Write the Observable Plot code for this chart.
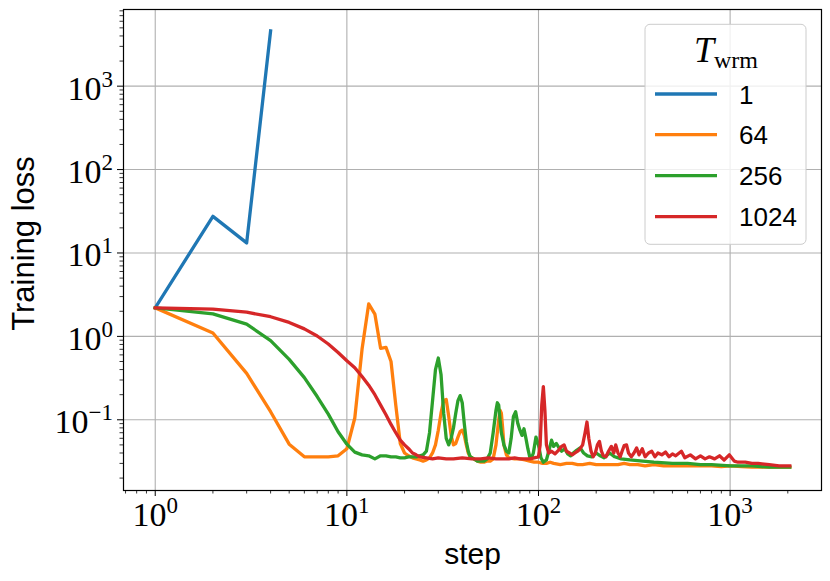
<!DOCTYPE html>
<html><head><meta charset="utf-8">
<script src="https://cdn.jsdelivr.net/npm/d3@7"></script>
<script src="https://cdn.jsdelivr.net/npm/@observablehq/plot@0.6"></script>
<style>body{margin:0;background:#fff}#chart{position:relative;width:830px;height:581px}</style>
</head><body><div id="chart"></div>
<script>
// ---- data ----
const seriesNames = ["1", "64", "256", "1024"];
const seriesColors = ["#1f77b4", "#ff7f0e", "#2ca02c", "#d62728"];
const legendTitle = "T";
const legendSub = "wrm";
const xLabel = "step";
const yLabel = "Training loss";

const steps1 = [1, 2, 3, 4];
const loss1 = [2.2, 27.5, 13.2, 4600];

const steps64 = [1,2,3,4,5,6,7,8,9,10,11,12,13,14,15,16,17,18,19,20,21,22,23,24,25,26,27,28,29,30,31,32,33,34,35,36,37,38,39,40,41,42,43,44,
  46,48,50,52,54,56,58,60,62,63,64,65,66,68,70,
  75,80,85,90,95,100,105,110,115,120,
  130,140,150,160,170,185,200,220,240,260,280,300,330,360,400,450,500,560,630,700,800,900,1000,1150,1300,1500,1750,2048];
const loss64 = [2.2,1.1,0.36,0.125,0.051,0.036,0.036,0.036,0.037,0.045,
  0.105,0.7,2.45,1.85,0.72,0.74,0.5,0.15,0.052,0.04,
  0.037,0.035,0.034,0.033,0.032,0.033,0.035,0.04,0.05,0.075,
  0.12,0.17,0.175,0.11,0.065,0.05,0.052,0.062,0.072,0.075,
  0.065,0.05,0.04,0.036,
  0.034,0.032,0.031,0.031,0.032,0.032,0.034,0.05,0.1,0.13,0.12,0.08,0.05,0.038,0.035,
  0.034,0.034,0.033,0.032,0.031,0.031,0.030,0.030,0.031,0.030,
  0.029,0.030,0.030,0.029,0.029,0.030,0.029,0.029,0.029,0.029,0.030,0.029,0.029,0.028,0.029,0.028,0.028,0.028,0.028,0.028,0.028,0.0275,0.028,0.0275,0.027,0.027,0.027,0.027];

const steps256 = [1,2,3,4,5,6,7,8,9,10,11,12,13,14,15,16,17,18,19,20,21,22,23,24,25,26,27,28,29,30,31,32,33,34,35,36,37,38,39,40,41,42,43,44,
  46,48,50,52,54,56,58,60,61,62,63,64,66,68,70,72,74,76,78,80,82,84,86,88,90,92,94,97,100,103,106,110,114,117,120,
  124,128,132,137,142,147,152,158,165,172,180,190,200,210,220,235,250,270,300,350,400,500,600,700,800,1000,1300,1600,2048];
const loss256 = [2.2,1.86,1.4,0.89,0.53,0.32,0.19,0.117,0.072,0.051,
  0.041,0.038,0.037,0.034,0.037,0.037,0.036,0.036,0.035,0.035,
  0.036,0.036,0.036,0.037,0.038,0.042,0.07,0.17,0.4,0.55,
  0.35,0.12,0.06,0.05,0.06,0.08,0.12,0.17,0.195,0.16,
  0.09,0.055,0.042,0.036,
  0.034,0.032,0.032,0.032,0.034,0.04,0.07,0.13,0.16,0.15,0.1,0.07,0.05,0.042,0.04,
  0.06,0.11,0.125,0.09,0.075,0.065,0.078,0.06,0.045,0.036,
  0.035,0.04,0.062,0.05,0.035,0.031,0.033,0.045,0.057,0.048,
  0.052,0.046,0.042,0.045,0.039,0.037,0.04,0.043,0.046,0.04,
  0.037,0.036,0.04,0.037,0.035,0.04,0.036,0.034,0.033,0.032,
  0.031,0.03,0.03,0.029,0.029,0.028,0.028,0.027,0.027];

const steps1024 = [1,2,3,4,5,6,7,8,9,10,11,12,13,14,15,16,17,18,19,20,21,22,23,24,
  26,28,30,33,36,40,45,50,55,60,65,70,75,80,85,90,95,100,
  102,104,106,108,110,113,117,122,127,132,136,140,145,150,155,160,165,170,175,179,
  183,188,193,198,203,208,213,218,225,232,240,247,253,260,267,273,280,288,295,305,
  315,325,335,348,360,375,390,405,420,440,460,480,500,520,557,580,620,660,700,740,
  780,830,880,930,990,1050,1100,1200,1300,1400,1600,1800,2048];
const loss1024 = [2.2,2.12,1.95,1.72,1.47,1.23,1.01,0.81,0.64,0.51,
  0.42,0.33,0.26,0.2,0.15,0.115,0.088,0.07,0.057,0.05,
  0.045,0.04,0.038,0.036,
  0.035,0.034,0.035,0.034,0.034,0.035,0.034,0.034,0.035,0.034,0.034,0.034,0.035,0.034,0.034,0.034,0.035,0.036,
  0.05,0.15,0.25,0.13,0.05,0.04,0.042,0.039,0.043,0.048,
  0.05,0.042,0.04,0.038,0.04,0.042,0.045,0.05,0.07,0.094,
  0.06,0.042,0.036,0.04,0.05,0.055,0.042,0.037,0.036,0.042,
  0.048,0.04,0.05,0.04,0.036,0.042,0.049,0.05,0.04,0.036,
  0.04,0.046,0.038,0.045,0.036,0.04,0.042,0.036,0.04,0.038,
  0.041,0.036,0.039,0.037,0.042,0.035,0.038,0.034,0.037,0.034,
  0.036,0.034,0.037,0.033,0.038,0.032,0.031,0.031,0.03,0.03,
  0.029,0.028,0.028];

const xTickExps = [0, 1, 2, 3];
const yTickExps = [-1, 0, 1, 2, 3];

// ---- build table ----
const seriesData = [[steps1, loss1], [steps64, loss64], [steps256, loss256], [steps1024, loss1024]];
const rows = [];
seriesData.forEach(([s, l], i) => {
  const n = Math.min(s.length, l.length);
  for (let k = 0; k < n; k++) rows.push({series: seriesNames[i], step: s[k], loss: l[k]});
});

const xMajor = xTickExps.map(e => Math.pow(10, e));
const yMajor = yTickExps.map(e => Math.pow(10, e));
const xDomain = [0.683, 2998];
const yDomain = [0.0142, 8300];
function minorTicks(domain) {
  const out = [];
  for (let e = Math.floor(Math.log10(domain[0])); e <= Math.ceil(Math.log10(domain[1])); e++) {
    for (let m = 2; m <= 9; m++) {
      const v = m * Math.pow(10, e);
      if (v >= domain[0] && v <= domain[1]) out.push(v);
    }
  }
  return out;
}
const xMinor = minorTicks(xDomain);
const yMinor = minorTicks(yDomain);
const sup = e => "10^" + (e < 0 ? "\u2212" + (-e) : String(e));

const serif = "'Liberation Serif', 'DejaVu Serif', serif";
const sans = "'Liberation Sans', 'DejaVu Sans', sans-serif";

const svg = Plot.plot({
  width: 830,
  height: 581,
  marginLeft: 123,
  marginRight: 9,
  marginTop: 9,
  marginBottom: 91,
  style: {background: "white", fontFamily: sans, overflow: "visible"},
  x: {type: "log", domain: xDomain},
  y: {type: "log", domain: yDomain},
  color: {domain: seriesNames, range: seriesColors},
  marks: [
    Plot.gridX(xMajor, {stroke: "#b0b0b0", strokeOpacity: 1, strokeWidth: 1.1}),
    Plot.gridY(yMajor, {stroke: "#b0b0b0", strokeOpacity: 1, strokeWidth: 1.1}),
    Plot.line(rows, {x: "step", y: "loss", z: "series", stroke: "series", strokeWidth: 3.3, strokeLinejoin: "round", strokeLinecap: "square"}),
    Plot.frame({stroke: "black", strokeWidth: 1.2}),
    Plot.axisX(xMajor, {anchor: "bottom", tickSize: 6, tickFormat: () => "", label: null, stroke: "black", strokeWidth: 1}),
    Plot.axisX(xMinor, {anchor: "bottom", tickSize: 3.5, tickFormat: () => "", label: null, stroke: "black", strokeWidth: 0.8}),
    Plot.axisY(yMajor, {anchor: "left", tickSize: 6, tickFormat: () => "", label: null, stroke: "black", strokeWidth: 1}),
    Plot.axisY(yMinor, {anchor: "left", tickSize: 3.5, tickFormat: () => "", label: null, stroke: "black", strokeWidth: 0.8}),
    Plot.text(xTickExps, {x: e => Math.pow(10, e), text: e => sup(e), frameAnchor: "bottom", textAnchor: "middle", lineAnchor: "bottom", dy: 35, fontSize: 34, fontFamily: serif, fill: "black"}),
    Plot.text(yTickExps, {y: e => Math.pow(10, e), text: e => sup(e), frameAnchor: "left", textAnchor: "end", lineAnchor: "bottom", dx: -10.5, dy: 13.5, fontSize: 34, fontFamily: serif, fill: "black"}),
    Plot.text([xLabel], {text: d => d, frameAnchor: "bottom", textAnchor: "middle", lineAnchor: "bottom", dy: 73, fontSize: 30, fontFamily: sans, fill: "black"}),
    Plot.text([yLabel], {text: d => d, frameAnchor: "left", rotate: -90, textAnchor: "middle", lineAnchor: "bottom", dx: -90, dy: -6.5, fontSize: 31, fontFamily: sans, fill: "black"})
  ]
});

// superscript exponents in tick labels
d3.select(svg).selectAll("text").each(function () {
  const m = /^10\^(.+)$/.exec(this.textContent);
  if (m) {
    this.textContent = "10";
    d3.select(this).append("tspan").attr("dy", -13).attr("font-size", 23).text(m[1]);
  }
});

// legend (inside axes, upper right)
const lg = d3.select(svg).append("g").attr("class", "legend").attr("text-anchor", "start");
lg.append("rect").attr("x", 645).attr("y", 24.3).attr("width", 161).attr("height", 220)
  .attr("rx", 5).attr("fill", "white").attr("fill-opacity", 0.8)
  .attr("stroke", "#cccccc").attr("stroke-width", 1);
const title = lg.append("text").attr("x", 726).attr("y", 61.7).attr("text-anchor", "middle")
  .attr("font-family", serif).attr("fill", "black");
title.append("tspan").attr("font-size", 36).attr("font-style", "italic").text(legendTitle);
title.append("tspan").attr("font-size", 24).attr("dy", 6.5).text(legendSub);
const entryY = [94, 134.7, 175.7, 216.7];
seriesNames.forEach((name, i) => {
  lg.append("line").attr("x1", 655).attr("x2", 717).attr("y1", entryY[i]).attr("y2", entryY[i])
    .attr("stroke", seriesColors[i]).attr("stroke-width", 3.3);
  lg.append("text").attr("x", 739).attr("y", entryY[i] + 9.5).attr("text-anchor", "start")
    .attr("font-family", sans).attr("font-size", 26).attr("fill", "black").text(name);
});

document.getElementById("chart").append(svg);
</script>
</body></html>
